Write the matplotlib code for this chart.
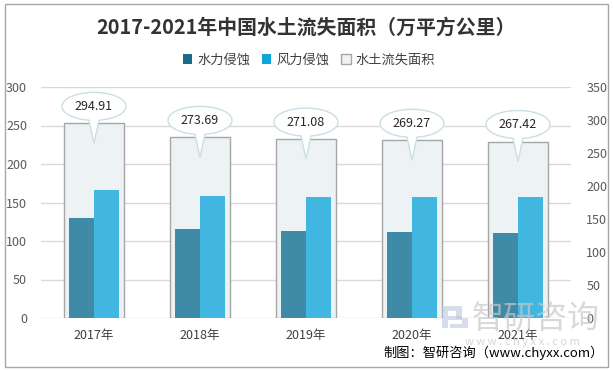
import matplotlib
matplotlib.use("Agg")
import matplotlib.pyplot as plt
import matplotlib.patches as mpatches
import matplotlib.transforms as mtransforms
from matplotlib.path import Path
import numpy as np

plt.rcParams['font.family'] = ['Noto Sans CJK SC', 'DejaVu Sans']

years = ['2017年', '2018年', '2019年', '2020年', '2021年']
water = [129.32, 115.09, 113.47, 112.00, 110.58]
wind = [165.59, 158.60, 157.61, 157.27, 156.84]
total = [294.91, 273.69, 271.08, 269.27, 267.42]
total_labels = ['294.91', '273.69', '271.08', '269.27', '267.42']
left_ticks = [0, 50, 100, 150, 200, 250, 300]
right_ticks = [0, 50, 100, 150, 200, 250, 300, 350]

W, H = 613, 371
fig = plt.figure(figsize=(W / 100, H / 100), dpi=100)

L, R, B, T = 41 / W, 571 / W, 1 - 318 / H, 1 - 87 / H
ax = fig.add_axes([L, B, R - L, T - B])
ax2 = ax.twinx()
ax3 = ax.twinx()

x = np.arange(len(years))

# grid axis (left)
ax.set_xlim(-0.5, len(years) - 0.5)
ax.set_ylim(0, 300)
ax.set_yticks(left_ticks)
ax.grid(axis='y', color='#d9d9d9', linewidth=1)
ax.set_xticks(x)
ax.set_xticklabels(years)
ax.tick_params(axis='x', length=0, pad=8, labelsize=9, labelcolor='#404040')
ax.tick_params(axis='y', length=0, pad=10, labelsize=9, labelcolor='#595959')
for s in ax.spines.values():
    s.set_visible(False)

# totals (right)
ax2.set_ylim(0, 350)
ax2.set_yticks(right_ticks)
ax2.tick_params(axis='y', length=0, pad=11, labelsize=9, labelcolor='#595959')
for s in ax2.spines.values():
    s.set_visible(False)
ax2.bar(x, total, width=0.575, color='#edf2f5', edgecolor='#a6a6a6', linewidth=1)

# water / wind (left scale)
ax3.set_ylim(0, 300)
ax3.set_yticks([])
for s in ax3.spines.values():
    s.set_visible(False)
bw = 0.235
ax3.bar(x - bw / 2, water, width=bw, color='#3f8aa6', linewidth=0)
ax3.bar(x + bw / 2, wind, width=bw, color='#41b6e0', linewidth=0)

# callouts
a, b, cy, tipy, hb = 32, 14, 17, -20, 5
phi = np.degrees(np.arcsin(hb / a))
th = np.radians(np.linspace(-90 + phi, 270 - phi, 80))
pts = [(a * np.cos(t), cy + b * np.sin(t)) for t in th]
pts.append((0, tipy))
pts.append(pts[0])
codes = [Path.MOVETO] + [Path.LINETO] * (len(pts) - 2) + [Path.CLOSEPOLY]
callout = Path(pts, codes)
for xi, ti, lab in zip(x, total, total_labels):
    tr = mtransforms.Affine2D() + mtransforms.ScaledTranslation(xi, ti, ax2.transData)
    p = mpatches.PathPatch(callout, transform=tr, facecolor='white',
                           edgecolor='#c9dfe5', linewidth=1, zorder=10, clip_on=False)
    ax3.add_patch(p)
    ax3.text(0, cy, lab, transform=tr, ha='center', va='center', fontsize=9,
             color='#262626', zorder=11, clip_on=False)

# title
fig.text(0.5 * (103 + 508) / W, 1 - 27 / H, '2017-2021年中国水土流失面积（万平方公里）',
         ha='center', va='center', fontsize=14.3, fontweight='bold', color='#333333')

# legend
handles = [mpatches.Patch(facecolor='#1a6a8a', edgecolor='none', label='水力侵蚀'),
           mpatches.Patch(facecolor='#0ca6dc', edgecolor='none', label='风力侵蚀'),
           mpatches.Patch(facecolor='#eef2f5', edgecolor='#a6a6a6', label='水土流失面积')]
fig.legend(handles=handles, loc='center', bbox_to_anchor=(309 / W, 1 - 60 / H),
           ncol=3, frameon=False, fontsize=9.5, handlelength=0.7, handleheight=0.7,
           handletextpad=0.4, columnspacing=0.9, labelcolor='#404040')

# watermark
fig.text(472 / W, 1 - 319 / H, '智研咨询', ha='left', va='center', fontsize=23,
         color='#c8c8c8', alpha=0.7, zorder=0)
fig.text(522 / W, 1 - 342 / H, 'w w w . c h y x x . c o m', ha='center', va='center',
         fontsize=8, color='#cccccc', alpha=0.8)
for rx, ry, rw, rh in [(442, 306, 6, 22), (448, 306, 14, 5), (456, 311, 6, 8),
                       (448, 316, 14, 4), (462, 318, 6, 10), (450, 324, 12, 4)]:
    fig.patches.append(mpatches.Rectangle((rx / W, 1 - (ry + rh) / H), rw / W, rh / H,
                                          transform=fig.transFigure, facecolor='#b9c8dc',
                                          edgecolor='none', alpha=0.6))

# source
fig.text(604 / W, 1 - 353 / H, '制图：智研咨询（www.chyxx.com）', ha='right', va='center',
         fontsize=9.5, color='#000000')

# border
fig.patches.append(mpatches.Rectangle((4.5 / W, 4 / H), (W - 9.5) / W, (H - 7.5) / H,
                                      transform=fig.transFigure, fill=False,
                                      edgecolor='#a6a6a6', linewidth=1))

fig.savefig('out.png', dpi=100)
